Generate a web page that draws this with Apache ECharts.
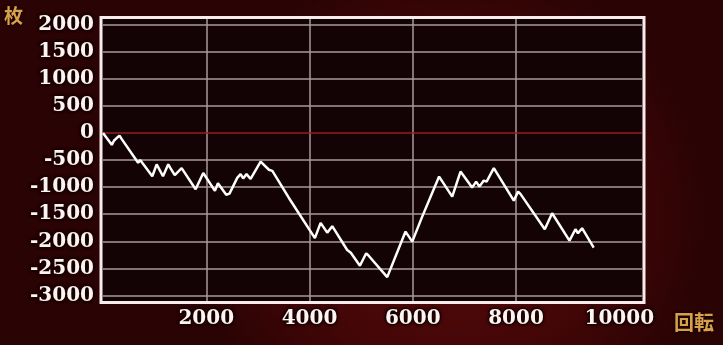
<!DOCTYPE html>
<html>
<head>
<meta charset="utf-8">
<script src="https://cdn.jsdelivr.net/npm/echarts@6/dist/echarts.min.js"></script>
<style>html,body{margin:0;padding:0;background:#2a0304;}#c{width:723px;height:345px;}</style>
</head>
<body>
<div id="c"></div>
<script>
// ---- data ----
var spins  = [0, 170, 215, 260, 320, 360, 680, 720, 760, 955, 1040, 1162, 1264, 1300, 1390, 1523, 1794, 1942, 2168, 2226, 2387, 2450, 2600, 2665, 2715, 2780, 2859, 3053, 3214, 3280, 3601, 4104, 4215, 4343, 4440, 4730, 4800, 4976, 5098, 5150, 5180, 5505, 5860, 5990, 6183, 6510, 6764, 6925, 7150, 7227, 7290, 7376, 7430, 7570, 7957, 8040, 8085, 8557, 8699, 9035, 9151, 9200, 9279, 9505];
var coins  = [0, -220, -140, -100, -50, -110, -550, -500, -550, -800, -580, -800, -580, -640, -780, -650, -1040, -740, -1070, -930, -1140, -1120, -830, -760, -840, -760, -850, -530, -680, -700, -1200, -1940, -1660, -1840, -1720, -2160, -2210, -2450, -2220, -2270, -2250, -2660, -1820, -2005, -1544, -806, -1175, -714, -1009, -898, -991, -880, -898, -651, -1249, -1083, -1125, -1777, -1482, -1987, -1777, -1851, -1758, -2115];
var yTicks = [2000, 1500, 1000, 500, 0, -500, -1000, -1500, -2000, -2500, -3000];
var xTicks = [2000, 4000, 6000, 8000, 10000];
var xGrid  = [2000, 4000, 6000, 8000];
var yUnit = '枚';
var xUnit = '回転';

var chart = echarts.init(document.getElementById('c'));
var labelStyle = {
  color: '#fbf4f0',
  fontFamily: 'DejaVu Serif',
  fontWeight: 'bold',
  fontSize: 20,
  textBorderColor: '#2a0000',
  textBorderWidth: 2,
  textShadowColor: 'rgba(0,0,0,0.8)',
  textShadowBlur: 3
};
var hLines = yTicks.filter(function(v){return v !== 0;}).map(function(v){return {yAxis: v};});
var vLines = xGrid.map(function(v){return {xAxis: v};});
var pts = spins.map(function(s, i){return [s, coins[i]];});

chart.setOption({
  animation: false,
  backgroundColor: {
    type: 'radial', x: 0.62, y: 0.62, r: 0.75,
    colorStops: [{offset: 0, color: '#580a0b'}, {offset: 0.6, color: '#430607'}, {offset: 1, color: '#2a0304'}]
  },
  grid: {left: 103, top: 19, right: 81, bottom: 44, show: true, backgroundColor: '#140304', borderWidth: 0},
  graphic: [
    {type: 'rect', shape: {x: 101, y: 17.5, width: 543, height: 285}, style: {fill: 'none', stroke: '#f6ecec', lineWidth: 3}, z: 100},
    {type: 'text', left: 4, top: 6, style: {text: yUnit, fill: '#d9a04a', font: 'bold 19px "Noto Sans CJK JP"', textShadowColor: '#000', textShadowBlur: 3}},
    {type: 'text', left: 674, top: 312, style: {text: xUnit, fill: '#d9a04a', font: 'bold 20px "Noto Sans CJK JP"', textShadowColor: '#000', textShadowBlur: 3}}
  ],
  xAxis: {
    type: 'value', min: 0, max: 10440, interval: 2000,
    axisLine: {show: false}, axisTick: {show: false}, splitLine: {show: false},
    axisLabel: Object.assign({}, labelStyle, {
      margin: 8, showMinLabel: false, showMaxLabel: false,
      formatter: function(v){ return xTicks.indexOf(v) >= 0 ? String(v) : ''; }
    })
  },
  yAxis: {
    type: 'value', min: -3100, max: 2100, interval: 100,
    axisLine: {show: false}, axisTick: {show: false}, splitLine: {show: false},
    axisLabel: Object.assign({}, labelStyle, {
      margin: 9,
      formatter: function(v){ return yTicks.indexOf(v) >= 0 ? String(v) : ''; }
    })
  },
  series: [
    {
      type: 'line', data: [], silent: true, z: 1,
      markLine: {
        silent: true, symbol: 'none', label: {show: false},
        lineStyle: {color: '#a89a9a', width: 1.5, type: 'solid'},
        data: hLines.concat(vLines)
      }
    },
    {
      type: 'line', data: [], silent: true, z: 2,
      markLine: {
        silent: true, symbol: 'none', label: {show: false},
        lineStyle: {color: '#9c1c1c', width: 1.5, type: 'solid'},
        data: [{yAxis: 0}]
      }
    },
    {
      type: 'line', data: pts, z: 5, symbol: 'none', smooth: false,
      lineStyle: {color: '#ffffff', width: 2.5}
    }
  ]
});
</script>
</body>
</html>
